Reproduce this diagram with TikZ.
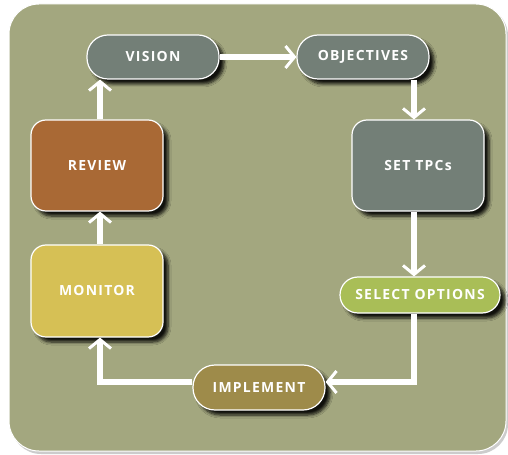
\documentclass[tikz,border=0pt]{standalone}
\usepackage{fontspec}
\setmainfont{Open Sans}[LetterSpace=9]
\usetikzlibrary{arrows.meta,shadows.blur,calc}
\definecolor{bgolive}{HTML}{A3A77F}
\definecolor{slate}{HTML}{737F77}
\definecolor{rust}{HTML}{A96935}
\definecolor{mustard}{HTML}{D6C055}
\definecolor{lime}{HTML}{A9BE57}
\definecolor{khaki}{HTML}{9E8B4A}
\tikzset{
  box/.style={draw=white, line width=1.2bp, text=white, font=\bfseries\fontsize{14}{15}\selectfont,
    blur shadow={shadow xshift=5bp, shadow yshift=-5bp, shadow blur steps=6, shadow opacity=90, shadow blur radius=3bp},
    inner sep=0pt},
  pill/.style={box, rounded corners=21bp, minimum height=44bp},
  square/.style={box, rounded corners=15bp, minimum width=132bp, minimum height=91bp},
  flow/.style={draw=white, line width=6bp, -{Straight Barb[line width=3bp, length=9bp, width=22bp]}}
}
\begin{document}
\begin{tikzpicture}[x=1bp,y=-1bp]
\useasboundingbox (0,0) rectangle (508,455);
\fill[white] (0,0) rectangle (508,455);
\fill[gray!40] (11,6) [rounded corners=30bp] rectangle (508,454);
\filldraw[fill=bgolive, draw=white, line width=1bp, rounded corners=30bp] (9,4) rectangle (506,451);
\coordinate (lc) at (100,0);
\coordinate (rc) at (414,0);
\node[pill, fill=slate, minimum width=132bp] (vision) at (153,57) {VISION};
\node[pill, fill=slate, minimum width=132bp] (obj) at (363,57) {OBJECTIVES};
\node[square, fill=slate] (tpc) at (418,165.5) {SET TPCs};
\node[square, fill=rust] (review) at (97,165.5) {REVIEW};
\node[square, fill=mustard, minimum height=92bp] (monitor) at (97,291) {MONITOR};
\node[box, fill=lime, rounded corners=18bp, minimum width=160bp, minimum height=36bp] (select) at (420,295) {SELECT OPTIONS};
\node[pill, fill=khaki, minimum width=132bp, minimum height=45bp, rounded corners=22bp] (impl) at (259,387.5) {IMPLEMENT};
\coordinate (bot) at (0,382);
\draw[flow] (vision.east) -- (obj.west);
\draw[flow] (obj.south -| rc) -- (tpc.north -| rc);
\draw[flow] (tpc.south -| rc) -- (select.north -| rc);
\draw[flow] (select.south -| rc) -- (bot -| rc) -- (impl.east |- bot);
\draw[flow] (impl.west |- bot) -- (bot -| lc) -- (monitor.south -| lc);
\draw[flow] (monitor.north -| lc) -- (review.south -| lc);
\draw[flow] (review.north -| lc) -- (vision.south -| lc);
\end{tikzpicture}
\end{document}
